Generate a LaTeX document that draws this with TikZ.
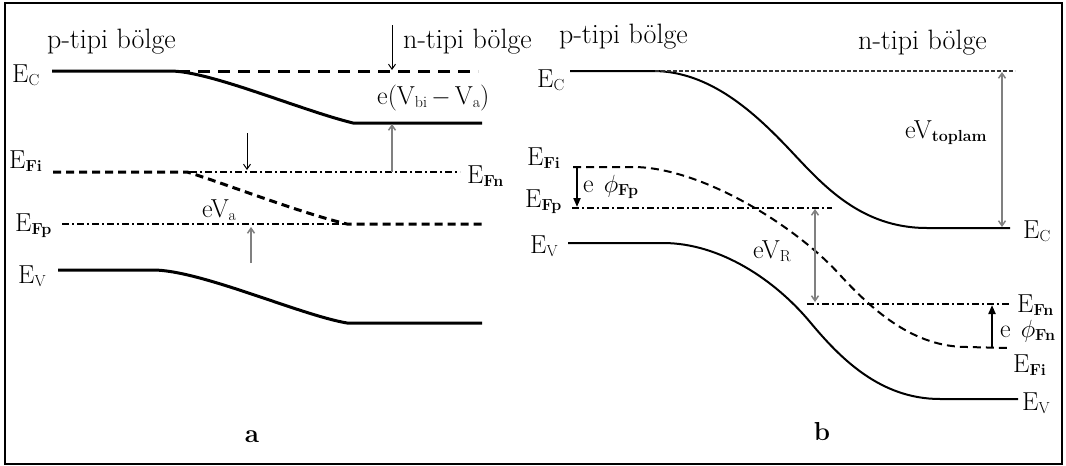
\documentclass[tikz,border=0pt]{standalone}
\usepackage{fontspec}
\usetikzlibrary{arrows.meta}
\newcommand{\sbs}[1]{\raisebox{-3pt}{\fontsize{16}{16}\selectfont #1}}
\newcommand{\sbb}[1]{\raisebox{-3pt}{\fontsize{16}{16}\selectfont\bfseries #1}}
\tikzset{
  lbl/.style={font=\fontsize{26}{30}\selectfont, inner sep=0pt, anchor=base west},
  region/.style={font=\fontsize{28}{32}\selectfont, inner sep=0pt, anchor=base west},
  tag/.style={font=\fontsize{26}{30}\selectfont\bfseries, inner sep=0pt, anchor=base},
  bandL/.style={line width=3pt, black},
  bandR/.style={line width=2pt, black},
  dashL/.style={line width=3pt, black, dash pattern=on 12pt off 8pt},
  dashLi/.style={line width=3pt, black, dash pattern=on 8pt off 5pt},
  dashdotL/.style={line width=2.5pt, black, dash pattern=on 7pt off 3pt on 2pt off 3pt},
  dotR/.style={line width=2pt, black!80, dash pattern=on 3.5pt off 2.5pt},
  dashR/.style={line width=2pt, black, dash pattern=on 8pt off 5pt},
  dashdotR/.style={line width=2pt, black, dash pattern=on 7pt off 3pt on 2pt off 3pt},
  thinarr/.style={line width=1pt, black, -{Straight Barb[length=5pt,width=7pt]}},
  grayarr/.style={line width=1.5pt, black!50, -{Straight Barb[length=5pt,width=7pt]}},
  graydbl/.style={line width=1.5pt, black!50, {Straight Barb[length=5pt,width=7pt]}-{Straight Barb[length=5pt,width=7pt]}},
  phiarr/.style={line width=2pt, black, -{Triangle[length=9pt,width=7pt]}}
}
\begin{document}
\begin{tikzpicture}[x=1pt,y=-1pt]
\useasboundingbox (0,0) rectangle (1066,466);
\draw[line width=2pt] (5,3) rectangle (1062,464);

% ---------------- panel a ----------------
\node[region] (pL) at (47,48) {p-tipi bölge};
\node[region] (nL) at (403,48) {n-tipi bölge};
\node[lbl] (ecL) at (12,82) {E\sbs{C}};
\node[lbl] (efiL) at (9,168) {E\sbb{Fi}};
\node[lbl] (efpL) at (15,231) {E\sbb{Fp}};
\node[lbl] (evL) at (18,283) {E\sbs{V}};
\node[lbl] (efnL) at (467,183) {E\sbb{Fn}};
\node[lbl] (ebi) at (377,104) {e(V\sbs{bi}$\,-\,$V\sbs{a})};
\node[lbl] (eva) at (202,217) {eV\sbs{a}};
\node[tag] (la) at (252,442) {a};

\draw[bandL] (52,71) -- (170,71) .. controls (210,71) and (300,110) .. (353,123) -- (482,123);
\draw[dashL] (178,71) -- (478,71);
\draw[bandL] (58,270) -- (153,270) .. controls (200,270) and (300,315) .. (347,323) -- (482,323);
\draw[dashLi] (53,172) -- (187,172) .. controls (215,180) and (300,213) .. (347,224) -- (482,224);
\draw[dashdotL] (190,172) -- (460,172);
\draw[dashdotL] (62,224) -- (345,224);

\coordinate (a1s) at (392,25);  \coordinate (a1e) at (392,70);
\coordinate (a2s) at (392,172); \coordinate (a2e) at (392,124);
\coordinate (a3s) at (247,133); \coordinate (a3e) at (247,170);
\coordinate (a4s) at (251,263); \coordinate (a4e) at (251,227);
\draw[thinarr] (a1s) -- (a1e);
\draw[grayarr] (a2s) -- (a2e);
\draw[thinarr] (a3s) -- (a3e);
\draw[grayarr] (a4s) -- (a4e);

% ---------------- panel b ----------------
\node[region] (pR) at (559,43) {p-tipi bölge};
\node[region] (nR) at (858,49) {n-tipi bölge};
\node[lbl] (ecR1) at (537,87) {E\sbs{C}};
\node[lbl] (efiR1) at (527,165) {E\sbb{Fi}};
\node[lbl] (efpR) at (525,207) {E\sbb{Fp}};
\node[lbl] (evR1) at (530,253) {E\sbs{V}};
\node[lbl] (ecR2) at (1023,238) {E\sbs{C}};
\node[lbl] (efnR) at (1017,312) {E\sbb{Fn}};
\node[lbl] (efiR2) at (1013,372) {E\sbb{Fi}};
\node[lbl] (evR2) at (1022,410) {E\sbs{V}};
\node[lbl] (evt) at (905,138) {eV\sbb{toplam}};
\node[lbl] (evr) at (753,258) {eV\sbs{R}};
\node[lbl] (ephp) at (583,192) {e\hspace{10pt}$\phi$\sbb{Fp}};
\node[lbl] (ephn) at (1000,337) {e\hspace{10pt}$\phi$\sbb{Fn}};
\node[tag] (lb) at (822,440) {b};

\draw[bandR] (570,71) -- (653,71) .. controls (710,71) and (755,113) .. (790,150) .. controls (822,184) and (860,228) .. (927,228) -- (1010,228);
\draw[dotR] (655,71) -- (1015,71);
\draw[bandR] (568,243) -- (663,243) .. controls (720,243) and (775,280) .. (810,322) .. controls (840,358) and (880,399) .. (940,399) -- (1018,399);
\draw[dashR] (573,167) -- (633,167) .. controls (700,167) and (795,225) .. (840,275) .. controls (875,313) and (915,347) .. (967,347) -- (1007,348);
\draw[dashdotR] (572,208) -- (832,208);
\draw[dashdotR] (807,304) -- (1010,304);

\coordinate (b1s) at (577,167); \coordinate (b1e) at (577,207);
\coordinate (b2s) at (1002,72);  \coordinate (b2e) at (1002,227);
\coordinate (b3s) at (815,209); \coordinate (b3e) at (815,302);
\coordinate (b4s) at (992,348); \coordinate (b4e) at (992,305);
\draw[phiarr] (b1s) -- (b1e);
\draw[graydbl] (b2s) -- (b2e);
\draw[graydbl] (b3s) -- (b3e);
\draw[phiarr] (b4s) -- (b4e);
\end{tikzpicture}
\end{document}
